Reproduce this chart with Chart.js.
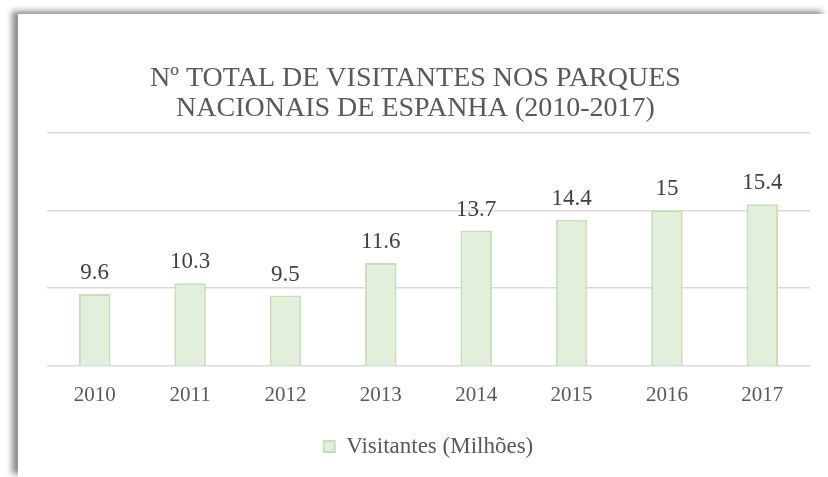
<!DOCTYPE html>
<html>
<head>
<meta charset="utf-8">
<script src="https://cdn.jsdelivr.net/npm/chart.js@4/dist/chart.umd.min.js"></script>
<style>
  html, body { margin: 0; padding: 0; background: #fff; width: 828px; height: 477px; overflow: hidden; }
  #box {
    position: absolute; left: 18px; top: 14px; width: 810px; height: 463px;
    background: #fff;
    box-shadow: -6px -3px 6px rgba(0, 0, 0, 0.45);
  }
</style>
</head>
<body>
<div id="box"><canvas id="chart" width="810" height="463"></canvas></div>
<script>
const years = ["2010", "2011", "2012", "2013", "2014", "2015", "2016", "2017"];
const visitantes = [9.6, 10.3, 9.5, 11.6, 13.7, 14.4, 15, 15.4];
const titleLines = ["Nº TOTAL DE VISITANTES NOS PARQUES", "NACIONAIS DE ESPANHA (2010-2017)"];
const seriesName = "Visitantes (Milhões)";

const serif = "'Liberation Serif', 'Times New Roman', serif";

// value labels above each bar
const barValues = {
  id: "barValues",
  afterDatasetsDraw(chart) {
    const c = chart.ctx;
    const meta = chart.getDatasetMeta(0);
    c.save();
    c.font = "23px " + serif;
    c.fillStyle = "#404040";
    c.textAlign = "center";
    c.textBaseline = "alphabetic";
    meta.data.forEach((bar, i) => {
      c.fillText(String(visitantes[i]), bar.x, bar.y - 15);
    });
    c.restore();
  },
};

new Chart(document.getElementById("chart"), {
  type: "bar",
  data: {
    labels: years,
    datasets: [
      {
        label: seriesName,
        data: visitantes,
        backgroundColor: "#e2efda",
        borderColor: "#c5e0b4",
        borderWidth: 2,
        categoryPercentage: 1,
        barPercentage: 0.33,
      },
    ],
  },
  options: {
    responsive: false,
    animation: false,
    layout: { padding: { left: 3, right: 18, top: 20, bottom: 9 } },
    plugins: {
      title: {
        display: true,
        text: titleLines,
        color: "#595959",
        font: { family: serif, size: 28, weight: "normal", lineHeight: 1.07 },
        padding: { top: 30, bottom: 9 },
      },
      legend: {
        position: "bottom",
        fullSize: false,
        labels: {
          color: "#595959",
          font: { family: serif, size: 23 },
          boxWidth: 11,
          boxHeight: 11,
          padding: 13,
        },
      },
      tooltip: { enabled: false },
    },
    scales: {
      x: {
        grid: { display: false },
        border: { display: false },
        ticks: { color: "#595959", font: { family: serif, size: 21 }, padding: 9.5 },
        afterFit: (scale) => { scale.height = scale.height + 4.5; },
      },
      y: {
        min: 5,
        max: 20,
        ticks: { display: false, stepSize: 5 },
        grid: { color: "#d9d9d9", lineWidth: 1.5, drawTicks: false },
        border: { display: false },
        afterFit: (scale) => { scale.width = 26; },
      },
    },
  },
  plugins: [barValues],
});
</script>
</body>
</html>
